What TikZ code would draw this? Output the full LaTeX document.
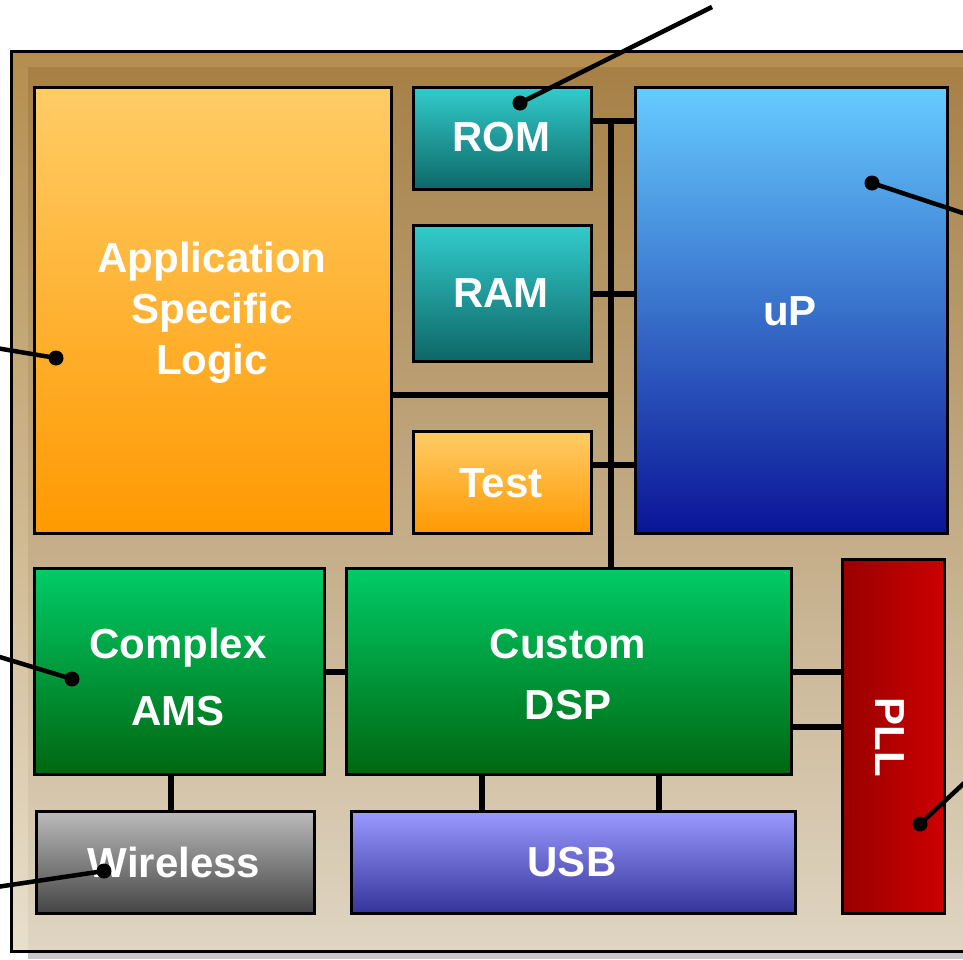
\documentclass[tikz,border=0pt]{standalone}
\usepackage{fontspec}
\setmainfont{Liberation Sans}
\definecolor{chipOutTop}{HTML}{B48E4E}
\definecolor{chipOutBot}{HTML}{E8DFCC}
\definecolor{chipInTop}{HTML}{A68046}
\definecolor{chipInBot}{HTML}{DFD5C2}
\definecolor{shadowGray}{HTML}{C8C8C8}
\definecolor{orangeTop}{HTML}{FFCC66}
\definecolor{orangeBot}{HTML}{FF9900}
\definecolor{tealTop}{HTML}{33CCCC}
\definecolor{tealBot}{HTML}{0D6666}
\definecolor{blueTop}{HTML}{66CCFF}
\definecolor{blueBot}{HTML}{0A1496}
\definecolor{greenTop}{HTML}{00CC66}
\definecolor{greenBot}{HTML}{006611}
\definecolor{redLeft}{HTML}{990000}
\definecolor{redRight}{HTML}{CC0000}
\definecolor{grayTop}{HTML}{BBBBBB}
\definecolor{grayBot}{HTML}{444444}
\definecolor{violetTop}{HTML}{9999FF}
\definecolor{violetBot}{HTML}{333399}
\begin{document}
\begin{tikzpicture}[x=1pt,y=-1pt,
  blk/.style={draw=black, line width=3pt, rectangle, inner sep=0pt, anchor=north west},
  orangeblk/.style={blk, top color=orangeTop, bottom color=orangeBot},
  tealblk/.style={blk, top color=tealTop, bottom color=tealBot},
  greenblk/.style={blk, top color=greenTop, bottom color=greenBot},
  lbl/.style={text=white, font=\bfseries\fontsize{42}{51}\selectfont, align=center, inner sep=0pt},
  wire/.style={line width=6pt},
  call/.style={line width=4.5pt},
  dot/.style={circle, fill=black, inner sep=0pt, minimum size=15pt}]
\useasboundingbox (0,0) rectangle (963,959);
\clip (0,0) rectangle (963,959);

% chip substrate with its drop shadow
\fill[shadowGray] (28,951) rectangle (990,959);
\shade[top color=chipOutTop, bottom color=chipOutBot] (11,51) rectangle (990,951);
\shade[top color=chipInTop, bottom color=chipInBot] (28,67) rectangle (990,951);
\draw[line width=3pt] (11,51) rectangle (990,951);

% functional blocks
\node[orangeblk, minimum width=357pt, minimum height=446pt] (asl) at (33,86) {};
\node[tealblk, minimum width=178pt, minimum height=102pt] (rom) at (412,86) {};
\node[tealblk, minimum width=178pt, minimum height=136pt] (ram) at (412,224) {};
\node[orangeblk, minimum width=178pt, minimum height=102pt] (test) at (412,430) {};
\node[blk, top color=blueTop, bottom color=blueBot, minimum width=312pt, minimum height=446pt] (up) at (634,86) {};
\node[greenblk, minimum width=290pt, minimum height=206pt] (ams) at (33,567) {};
\node[greenblk, minimum width=445pt, minimum height=206pt] (dsp) at (345,567) {};
\node[blk, left color=redLeft, right color=redRight, minimum width=102pt, minimum height=354pt] (pll) at (841,558) {};
\node[blk, top color=grayTop, bottom color=grayBot, minimum width=278pt, minimum height=102pt] (wl) at (35,810) {};
\node[blk, top color=violetTop, bottom color=violetBot, minimum width=444pt, minimum height=102pt] (usb) at (350,810) {};

% block names
\node[lbl] (asl-t) at (212,313) {Application\\Specific\\Logic};
\node[lbl] (rom-t) at (501,137) {ROM};
\node[lbl] (ram-t) at (501,293) {RAM};
\node[lbl] (test-t) at (501,483) {Test};
\node[lbl] (up-t) at (790,311) {uP};
\node[lbl] (ams-t) at (178,677) {Complex\\[16pt]AMS};
\node[lbl] (dsp-t) at (568,675) {Custom\\[10pt]DSP};
\node[lbl, rotate=-90] (pll-t) at (890,737) {PLL};
\node[lbl] (wl-t) at (174,862) {Wireless};
\node[lbl] (usb-t) at (572,862) {USB};

% on-chip bus and point-to-point links
\coordinate (busTop) at (611,121);
\coordinate (busAsl) at (611,395);
\coordinate (busTest) at (611,465);
\coordinate (pllLow) at (790,727);
\coordinate (amsWl) at (171,773);
\coordinate (usbA) at (482,773);
\coordinate (usbB) at (659,773);
\draw[wire] (busTop -| rom.east) -- (busTop -| up.west);
\draw[wire] (busTop) -- (busTop |- dsp.north);
\draw[wire] (ram.east) -- (ram.east -| up.west);
\draw[wire] (busAsl -| asl.east) -- (busAsl);
\draw[wire] (busTest -| test.east) -- (busTest -| up.west);
\draw[wire] (ams.east) -- (dsp.west);
\draw[wire] (dsp.east) -- (dsp.east -| pll.west);
\draw[wire] (pllLow) -- (pllLow -| pll.west);
\draw[wire] (amsWl) -- (amsWl |- wl.north);
\draw[wire] (usbA) -- (usbA |- usb.north);
\draw[wire] (usbB) -- (usbB |- usb.north);

% callout leaders
\node[dot] (rom-d) at (520,103) {};
\node[dot] (up-d) at (872,183) {};
\node[dot] (asl-d) at (56,358) {};
\node[dot] (ams-d) at (72,679) {};
\node[dot] (wl-d) at (104,871) {};
\node[dot] (pll-d) at (920,824) {};
\coordinate (rom-e) at (712,7);
\coordinate (up-e) at (975,217);
\coordinate (asl-e) at (-10,347);
\coordinate (ams-e) at (-10,654);
\coordinate (wl-e) at (-10,888);
\coordinate (pll-e) at (975,773);
\draw[call] (rom-d.center) -- (rom-e);
\draw[call] (up-d.center) -- (up-e);
\draw[call] (asl-d.center) -- (asl-e);
\draw[call] (ams-d.center) -- (ams-e);
\draw[call] (wl-d.center) -- (wl-e);
\draw[call] (pll-d.center) -- (pll-e);
\end{tikzpicture}
\end{document}
